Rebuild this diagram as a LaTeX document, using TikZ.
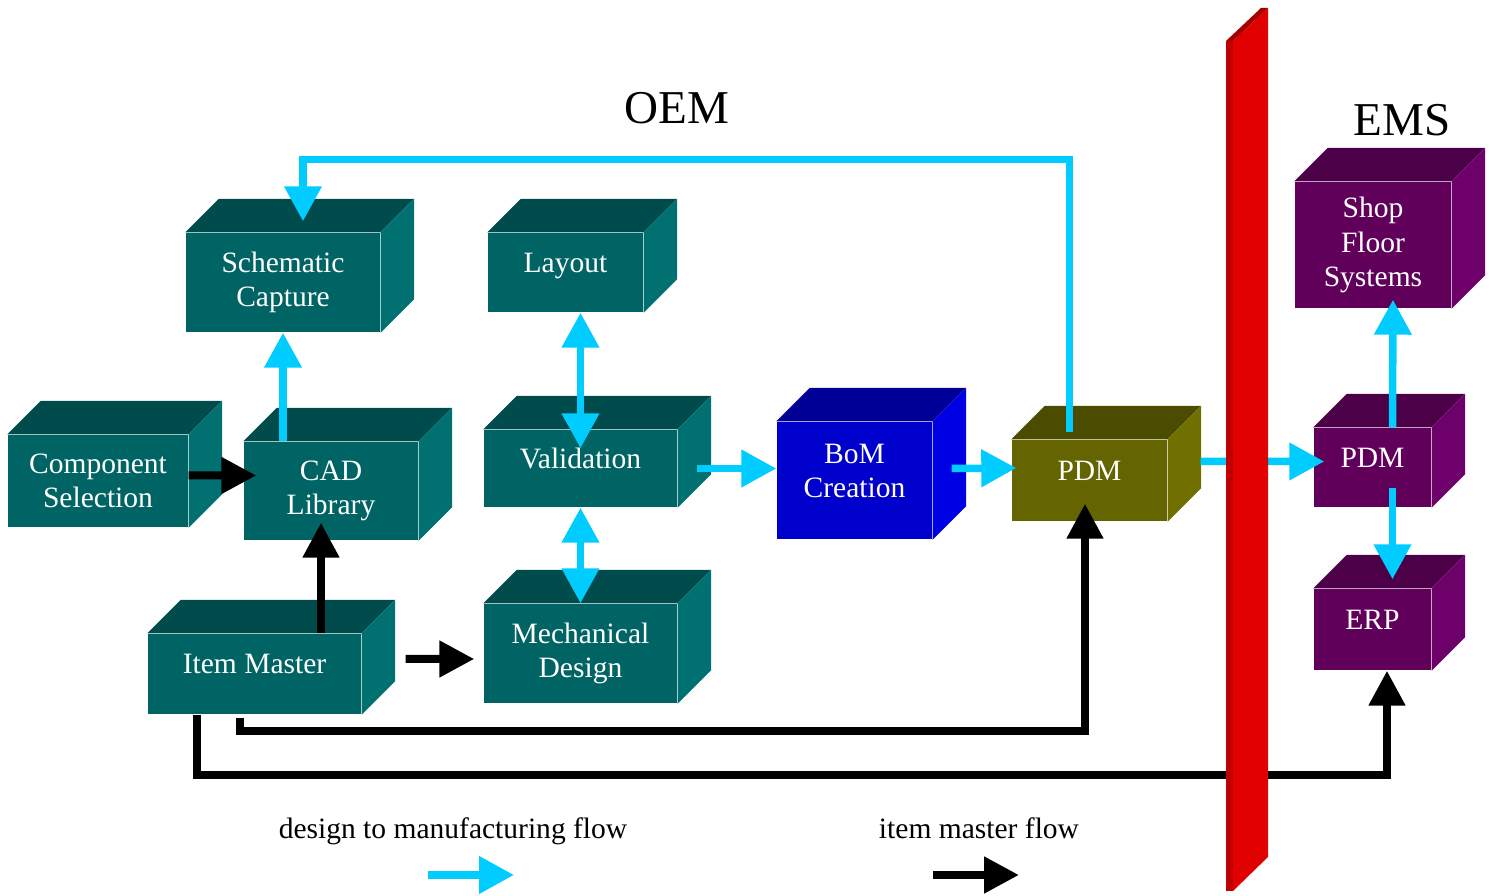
\documentclass[tikz,border=0pt]{standalone}
\usepackage{fontspec}
\setmainfont{Liberation Serif}
\usepackage{tikz}
\usetikzlibrary{arrows.meta}

\definecolor{tealfront}{RGB}{0,100,100}
\definecolor{tealtop}{RGB}{0,76,76}
\definecolor{tealside}{RGB}{0,112,112}
\definecolor{bluefront}{RGB}{0,0,204}
\definecolor{bluetop}{RGB}{0,0,150}
\definecolor{blueside}{RGB}{0,0,228}
\definecolor{olivefront}{RGB}{100,100,0}
\definecolor{olivetop}{RGB}{76,76,0}
\definecolor{oliveside}{RGB}{112,112,0}
\definecolor{plumfront}{RGB}{96,0,90}
\definecolor{plumtop}{RGB}{76,0,72}
\definecolor{plumside}{RGB}{110,0,106}
\definecolor{flowcyan}{RGB}{0,204,255}
\definecolor{wallred}{RGB}{224,0,0}
\definecolor{walldark}{RGB}{192,0,0}
\definecolor{walltop}{RGB}{165,0,0}

% top and right face of a box node
\newcommand{\cubefaces}[3]{%
    \fill[#2] (#1.north west) -- ++(0.335,0.335) -- ([shift={(0.335,0.335)}]#1.north east) -- (#1.north east) -- cycle;
    \fill[#3] (#1.north east) -- ++(0.335,0.335) -- ([shift={(0.335,0.335)}]#1.south east) -- (#1.south east) -- cycle;
}

\begin{document}
\begin{tikzpicture}
        \tikzstyle{cube}=[inner sep=0pt, align=center, text=white, font=\fontsize{8.4}{9.7}\selectfont]
        \tikzstyle{oneline}=[text depth=0.2cm]
        \tikzstyle{flow}=[draw=flowcyan, line width=0.075cm, >={Triangle[length=0.35cm,width=0.36cm]}]
        \tikzstyle{master}=[draw=black, line width=0.08cm, >={Triangle[length=0.35cm,width=0.35cm]}]
        \tikzstyle{title}=[font=\fontsize{13.4}{16}\selectfont, anchor=base]
        \tikzstyle{legend}=[font=\fontsize{8.4}{10}\selectfont, anchor=base]

        \useasboundingbox (0,0) rectangle (14.94,-8.96);

        \node (sch)  [cube, fill=tealfront, minimum width=1.94cm, minimum height=0.99cm] at (2.83,-2.825) {Schematic\\Capture};
        \node (lay)  [cube, oneline, fill=tealfront, minimum width=1.55cm, minimum height=0.79cm] at (5.655,-2.725) {Layout};
        \node (comp) [cube, fill=tealfront, minimum width=1.80cm, minimum height=0.92cm] at (0.98,-4.81) {Component\\Selection};
        \node (cad)  [cube, fill=tealfront, minimum width=1.74cm, minimum height=0.98cm] at (3.31,-4.91) {CAD\\Library};
        \node (val)  [cube, oneline, fill=tealfront, minimum width=1.93cm, minimum height=0.77cm] at (5.805,-4.685) {Validation};
        \node (item) [cube, oneline, fill=tealfront, minimum width=2.13cm, minimum height=0.80cm] at (2.545,-6.74) {Item Master};
        \node (mech) [cube, fill=tealfront, minimum width=1.93cm, minimum height=0.99cm] at (5.805,-6.535) {Mechanical\\Design};
        \node (bom)  [cube, oneline, fill=bluefront, minimum width=1.55cm, minimum height=1.17cm] at (8.545,-4.805) {BoM\\Creation};
        \node (pdm)  [cube, oneline, fill=olivefront, minimum width=1.55cm, minimum height=0.81cm] at (10.895,-4.805) {PDM};
        \node (shop) [cube, fill=plumfront, minimum width=1.56cm, minimum height=1.26cm] at (13.73,-2.45) {Shop\\Floor\\Systems};
        \node (epdm) [cube, oneline, fill=plumfront, minimum width=1.17cm, minimum height=0.79cm] at (13.725,-4.675) {PDM};
        \node (erp)  [cube, oneline, fill=plumfront, minimum width=1.17cm, minimum height=0.81cm] at (13.725,-6.295) {ERP};

        \foreach \n in {sch,lay,comp,cad,val,item,mech} {\cubefaces{\n}{tealtop}{tealside}}
        \cubefaces{bom}{bluetop}{blueside}
        \cubefaces{pdm}{olivetop}{oliveside}
        \foreach \n in {shop,epdm,erp} {\cubefaces{\n}{plumtop}{plumside}}

        \draw[flow, ->] (sch.south |- cad.north) -- (sch.south);
        \draw[flow, ->] ([xshift=-0.2cm,yshift=0.07cm]pdm.north) -- ++(0,2.73) -| ([xshift=0.2cm,yshift=0.11cm]sch.north);
        \draw[flow, <->] (val.north |- lay.south) -- ([yshift=-0.19cm]val.north);
        \draw[flow, <->] (val.south) -- (mech.north);
        \draw[flow, ->] ([xshift=0.19cm]val.east) -- (bom.west |- val.east);
        \draw[flow, ->] ([xshift=0.19cm,yshift=0.12cm]bom.east) -- ([xshift=0.05cm,yshift=0.125cm]pdm.west);
        \draw[flow, ->] ([xshift=0.33cm,yshift=0.19cm]pdm.east) -- ([xshift=0.11cm,yshift=0.06cm]epdm.west);
        \draw[flow, ->] ([xshift=0.2cm]epdm.north) -- ([xshift=0.2cm,yshift=0.09cm]shop.south);
        \draw[flow, ->] ([xshift=0.2cm,yshift=0.2cm]epdm.south) -- ([xshift=0.2cm,yshift=0.09cm]erp.north);

        \draw[master, ->] ([yshift=0.055cm]comp.east) -- ([xshift=0.13cm,yshift=0.155cm]cad.west);
        \draw[master, ->] ([xshift=0.665cm]item.north) -- ([xshift=-0.1cm,yshift=0.18cm]cad.south);
        \draw[master, ->] ([xshift=0.44cm,yshift=0.15cm]item.east) -- ([xshift=-0.09cm,yshift=-0.055cm]mech.west);
        \draw[master, ->] ([xshift=-0.145cm,yshift=-0.03cm]item.south) -- ++(0,-0.13) -| ([xshift=-0.045cm,yshift=0.18cm]pdm.south);
        \draw[master, ->] ([xshift=-0.575cm]item.south) -- ++(0,-0.6) -| ([xshift=0.145cm]erp.south);

        \fill[walldark] (12.26,-0.41) rectangle (12.33,-8.91);
        \fill[wallred] (12.33,-0.41) -- (12.68,-0.08) -- (12.68,-8.57) -- (12.33,-8.91) -- cycle;
        \fill[walltop] (12.26,-0.41) -- (12.61,-0.08) -- (12.68,-0.08) -- (12.33,-0.41) -- cycle;

        \node (oem) [title] at (6.77,-1.24) {OEM};
        \node (ems) [title] at (14.02,-1.36) {EMS};

        \node (flowtext)   [legend] at (4.53,-8.39) {design to manufacturing flow};
        \node (mastertext) [legend] at (9.79,-8.39) {item master flow};
        \coordinate (flowA) at (4.28,-8.75);
        \coordinate (flowB) at (5.14,-8.75);
        \coordinate (masterA) at (9.33,-8.75);
        \coordinate (masterB) at (10.19,-8.75);
        \draw[flow, ->] (flowA) -- (flowB);
        \draw[master, ->] (masterA) -- (masterB);
\end{tikzpicture}
\end{document}
